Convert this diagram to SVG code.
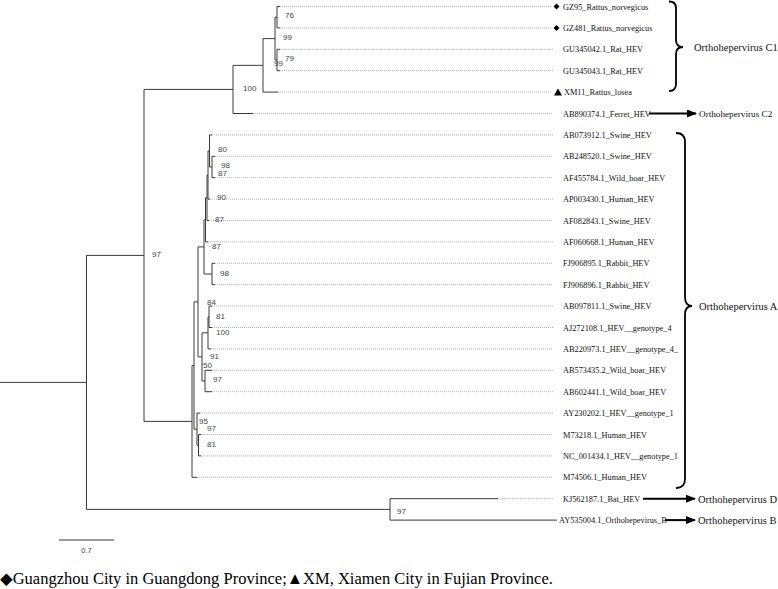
<svg xmlns="http://www.w3.org/2000/svg" width="778" height="589" viewBox="0 0 778 589">
<style>
.br{fill:none;stroke:#3a3a3a;stroke-width:1}
.dt{fill:none;stroke:#9a9a9a;stroke-width:0.8;stroke-dasharray:1 1}
.lf{font-family:"Liberation Serif","Times New Roman",serif;font-size:8.3px;fill:#111}
.bs{font-family:"Liberation Sans",Arial,sans-serif;font-size:8px;fill:#444}
.gp{font-family:"Liberation Serif","Times New Roman",serif;font-size:10.5px;fill:#111}
.brace{fill:none;stroke:#000;stroke-width:1.8}
.arr{fill:none;stroke:#000;stroke-width:2}
.ft{font-family:"Liberation Serif","Times New Roman","DejaVu Sans",serif;font-size:16.5px;fill:#000}
</style>
<defs>
<marker id="ah" viewBox="0 0 10 8" refX="9" refY="4" markerWidth="10" markerHeight="8" markerUnits="userSpaceOnUse" orient="auto">
<path d="M0,0 L10,4 L0,8 Z" fill="#000"/>
</marker>
</defs>
<rect width="778" height="589" fill="#fff"/>
<g id="connectors">
<path class="br" d="M0,382.4H86.5 M86.5,255.4V509.4 M86.5,255.4H144 M144,89.4V421.4 M86.5,509.4H390 M390,498.7V520.1 M390,498.7H498 M390,520.1H557
M144,89.4H233 M233,65.35V113.5 M233,113.5H253 M233,65.35H263 M263,38.6V92.1 M263,92.1H278 M263,38.6H275 M275,17.2V60 M275,17.2H277 M277,6.5V27.9 M277,6.5H280 M277,27.9H280 M275,60H277 M277,49.3V70.7 M277,49.3H280 M277,70.7H280
M144,421.4H192 M192,365.5V477.3 M192,477.3H197 M192,365.5H194 M194,301.9V429.15 M194,301.9H198 M198,246.9V356.9 M198,246.9H204 M204,219.85V274 M204,219.85H205.5 M205.5,197.8V241.9 M205.5,241.9H208 M205.5,197.8H207 M207,175V220.5 M207,220.5H209 M207,175H208 M208,150.95V199.1 M208,199.1H210 M208,150.95H209.5 M209.5,134.9V167 M209.5,134.9H212 M209.5,167H212 M212,156.3V177.7 M212,156.3H215 M212,177.7H215 M204,274H212 M212,263.3V284.7 M212,263.3H215 M212,284.7H215
M198,356.9H202 M202,332.85V381 M202,332.85H208 M208,316.8V348.9 M208,348.9H211 M208,316.8H209 M209,306.1V327.5 M209,306.1H212 M209,327.5H212 M202,381H205 M205,370.3V391.7 M205,370.3H212 M205,391.7H212
M194,429.15H197 M197,413.1V445.2 M197,413.1H200 M197,445.2H198.5 M198.5,434.5V455.9 M198.5,434.5H201 M198.5,455.9H201"/>
<path class="dt" d="M280,6.5H551 M280,27.9H551 M280,49.3H553 M280,70.7H553 M278,92.1H551 M253,113.5H553 M212,134.9H553 M215,156.3H553 M215,177.7H553 M210,199.1H553 M209,220.5H553 M208,241.9H553 M215,263.3H553 M215,284.7H553 M212,306.1H553 M212,327.5H553 M211,348.9H553 M212,370.3H553 M212,391.7H553 M200,413.1H553 M201,434.5H553 M201,455.9H553 M197,477.3H553 M498,498.7H553"/>
<path class="arr" d="M649,113.5H696" marker-end="url(#ah)"/>
<path class="arr" d="M643,498.7H695" marker-end="url(#ah)"/>
<path class="arr" d="M665,520.1H695" marker-end="url(#ah)"/>
<path class="brace" d="M669,1.5 Q676,1.5 676,8 L676,40 Q676,47 683,47 Q676,47 676,54 L676,84 Q676,91 669,91"/>
<path class="brace" d="M676,133 Q685,133 685,142 L685,297 Q685,306 692,306 Q685,306 685,315 L685,479 Q685,488 676,488"/>
</g>
<g id="bootstrap">
<text class="bs" x="285" y="18">76</text>
<text class="bs" x="283" y="40">99</text>
<text class="bs" x="285" y="61">79</text>
<text class="bs" x="274" y="66">99</text>
<text class="bs" x="243" y="91">100</text>
<text class="bs" x="152" y="257">97</text>
<text class="bs" x="218" y="152">80</text>
<text class="bs" x="221" y="168">98</text>
<text class="bs" x="218" y="176">87</text>
<text class="bs" x="217" y="200">90</text>
<text class="bs" x="215" y="222">87</text>
<text class="bs" x="212" y="249">87</text>
<text class="bs" x="220" y="276">98</text>
<text class="bs" x="207" y="305">84</text>
<text class="bs" x="216" y="319">81</text>
<text class="bs" x="216" y="335">100</text>
<text class="bs" x="210" y="359">91</text>
<text class="bs" x="203" y="368">50</text>
<text class="bs" x="213" y="382">97</text>
<text class="bs" x="199" y="424">95</text>
<text class="bs" x="207" y="431">97</text>
<text class="bs" x="207" y="447">81</text>
<text class="bs" x="397" y="514">97</text>
</g>
<g id="leaf-GZ95"><path d="M556.5,3.5 L559.5,6.5 L556.5,9.5 L553.5,6.5 Z" fill="#000"/><text class="lf" x="563" y="9.5">GZ95_Rattus_norvegicus</text></g>
<g id="leaf-GZ481"><path d="M556.5,24.9 L559.5,27.9 L556.5,30.9 L553.5,27.9 Z" fill="#000"/><text class="lf" x="563" y="30.9">GZ481_Rattus_norvegicus</text></g>
<g id="leaf-GU345042"><text class="lf" x="563" y="52.3">GU345042.1_Rat_HEV</text></g>
<g id="leaf-GU345043"><text class="lf" x="563" y="73.7">GU345043.1_Rat_HEV</text></g>
<g id="leaf-XM11"><path d="M554,95.5 L558,88.5 L562,95.5 Z" fill="#000"/><text class="lf" x="564" y="95.1">XM11_Rattus_losea</text></g>
<g id="leaf-AB890374"><text class="lf" x="563" y="116.5">AB890374.1_Ferret_HEV</text></g>
<g id="leaf-AB073912"><text class="lf" x="563" y="137.9">AB073912.1_Swine_HEV</text></g>
<g id="leaf-AB248520"><text class="lf" x="563" y="159.3">AB248520.1_Swine_HEV</text></g>
<g id="leaf-AF455784"><text class="lf" x="563" y="180.7">AF455784.1_Wild_boar_HEV</text></g>
<g id="leaf-AP003430"><text class="lf" x="563" y="202.1">AP003430.1_Human_HEV</text></g>
<g id="leaf-AF082843"><text class="lf" x="563" y="223.5">AF082843.1_Swine_HEV</text></g>
<g id="leaf-AF060668"><text class="lf" x="563" y="244.9">AF060668.1_Human_HEV</text></g>
<g id="leaf-FJ906895"><text class="lf" x="563" y="266.3">FJ906895.1_Rabbit_HEV</text></g>
<g id="leaf-FJ906896"><text class="lf" x="563" y="287.7">FJ906896.1_Rabbit_HEV</text></g>
<g id="leaf-AB097811"><text class="lf" x="563" y="309.1">AB097811.1_Swine_HEV</text></g>
<g id="leaf-AJ272108"><text class="lf" x="563" y="330.5">AJ272108.1_HEV__genotype_4</text></g>
<g id="leaf-AB220973"><text class="lf" x="563" y="351.9">AB220973.1_HEV__genotype_4_</text></g>
<g id="leaf-AB573435"><text class="lf" x="563" y="373.3">AB573435.2_Wild_boar_HEV</text></g>
<g id="leaf-AB602441"><text class="lf" x="563" y="394.7">AB602441.1_Wild_boar_HEV</text></g>
<g id="leaf-AY230202"><text class="lf" x="563" y="416.1">AY230202.1_HEV__genotype_1</text></g>
<g id="leaf-M73218"><text class="lf" x="563" y="437.5">M73218.1_Human_HEV</text></g>
<g id="leaf-NC_001434"><text class="lf" x="563" y="458.9">NC_001434.1_HEV__genotype_1</text></g>
<g id="leaf-M74506"><text class="lf" x="563" y="480.3">M74506.1_Human_HEV</text></g>
<g id="leaf-KJ562187"><text class="lf" x="563" y="501.7">KJ562187.1_Bat_HEV</text></g>
<g id="leaf-AY535004"><text class="lf" x="559" y="523.1">AY535004.1_Orthohepevirus_B</text></g>
<g id="group-C1"><text class="gp" x="694" y="50.5">Orthohepervirus C1</text></g>
<g id="group-C2"><text class="gp" x="699" y="117" style="font-size:9.2px">Orthohepervirus C2</text></g>
<g id="group-A"><text class="gp" x="699" y="309.5">Orthohepervirus A</text></g>
<g id="group-D"><text class="gp" x="698" y="502.5">Orthohepervirus D</text></g>
<g id="group-B"><text class="gp" x="698" y="524">Orthohepervirus B</text></g>
<g id="scale">
<path class="br" d="M59,540H114"/>
<text class="bs" x="86.5" y="553" text-anchor="middle" style="font-size:7.5px">0.7</text>
</g>
<g id="legend">
<text class="ft" x="0" y="584">◆Guangzhou City in Guangdong Province;▲XM, Xiamen City in Fujian Province.</text>
</g>
</svg>
